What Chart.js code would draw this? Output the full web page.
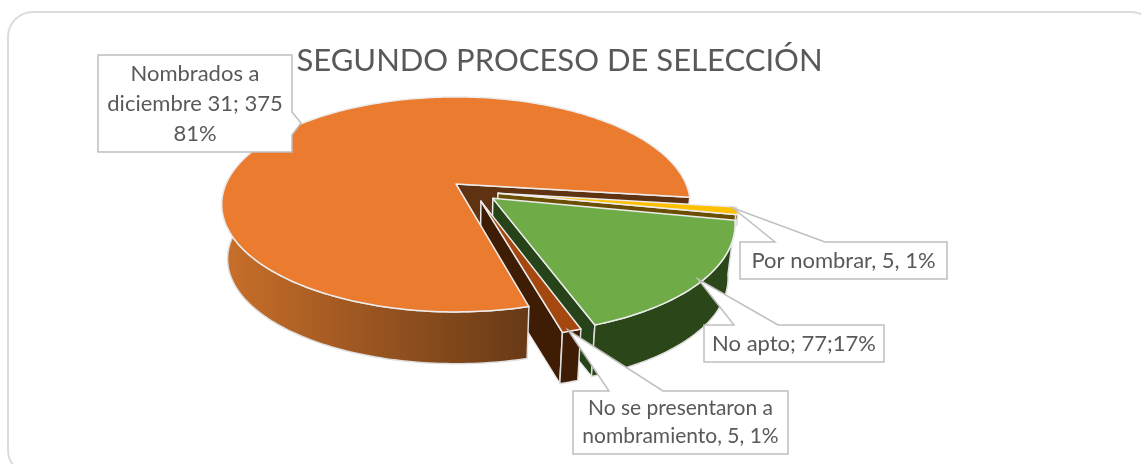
<!DOCTYPE html>
<html lang="es">
<head>
<meta charset="utf-8">
<title>Segundo proceso de selección</title>
<script src="https://cdn.jsdelivr.net/npm/chart.js@4"></script>
<style>
    html, body { margin: 0; background: #ffffff; overflow: hidden; }
    #frame {
        position: absolute; left: 7px; top: 11px; width: 1150px; height: 465px;
        border: 2px solid #dcdcdc; border-radius: 26px; box-sizing: border-box;
    }
    #chart { position: absolute; left: 0; top: 0; }
</style>
</head>
<body>
<div id="frame"></div>
<canvas id="chart" width="1119" height="464"></canvas>
<script>
const categories = ["Nombrados a diciembre 31", "Por nombrar", "No apto", "No se presentaron a nombramiento"];
const values = [375, 5, 77, 5];
const percents = ["81%", "1%", "17%", "1%"];
const titleText = "SEGUNDO PROCESO DE SELECCIÓN";

const faceColors = ["#ea7b2f", "#ffc000", "#6fab47", "#a5480f"];
const sideColors = ["#7a4317", "#6b4f00", "#2b4619", "#3f1d05"];
const wallColors = ["#5f3311", "#6b4f00", "#264319", "#3f1d05"];

// perspective of the tilted pie, in px
const VIEW = { cx: 456, cy: 184, rx: 230, ry: 103.6, tilt: 0.19, depth: 55, shrink: 0.975 };
// how far each slice is pulled out, in pie radii
const EXPLODE = [[0, 0], [0.179, 0.088], [0.156, 0.135], [0.105, 0.16]];
// the yellow slice only shows a thin strip above the green one
const DEPTH_SCALE = [1, 0.2, 1, 1];
const DRAW_ORDER = [1, 2, 3, 0];

const CALLOUTS = [
    { box: [98, 55, 194, 97], tip: [301, 123], base: [[292, 112], [292, 135]], lineHeight: 30, fontSize: 22,
      lines: ["Nombrados a", `diciembre 31; ${values[0]}`, percents[0]] },
    { box: [740, 242, 207, 37], tip: [733, 208], base: [[775, 242], [825, 242]], lineHeight: 30, fontSize: 22,
      lines: [`${categories[1]}, ${values[1]}, ${percents[1]}`] },
    { box: [704, 325, 180, 37], tip: [698, 279], base: [[734, 325], [778, 325]], lineHeight: 30, fontSize: 22,
      lines: [`${categories[2]}; ${values[2]};${percents[2]}`] },
    { box: [573, 391, 215, 63], tip: [568, 330], base: [[609, 391], [663, 391]], lineHeight: 28, fontSize: 21,
      lines: ["No se presentaron a", `nombramiento, ${values[3]}, ${percents[3]}`] },
];

function project(u, v, down) {
    const w = 1 - VIEW.tilt * v;
    const s = 1 - (1 - VIEW.shrink) * down;
    return [
        VIEW.cx + (s * VIEW.rx * u) / w,
        VIEW.cy + VIEW.depth * down + (s * VIEW.ry * v) / w,
    ];
}

function rimPoint(angle, index, bottom) {
    return project(
        Math.cos(angle) + EXPLODE[index][0],
        Math.sin(angle) + EXPLODE[index][1],
        bottom ? DEPTH_SCALE[index] : 0
    );
}

function apexPoint(index, bottom) {
    return project(EXPLODE[index][0], EXPLODE[index][1], bottom ? DEPTH_SCALE[index] : 0);
}

function tracePolygon(ctx, points) {
    ctx.beginPath();
    points.forEach((p, i) => (i ? ctx.lineTo(p[0], p[1]) : ctx.moveTo(p[0], p[1])));
    ctx.closePath();
}

function paint(ctx, points, fill, edge) {
    tracePolygon(ctx, points);
    ctx.fillStyle = fill;
    ctx.fill();
    ctx.strokeStyle = edge || "#ececec";
    ctx.lineWidth = 1.5;
    ctx.lineJoin = "round";
    ctx.stroke();
}

function rim(from, to, index, bottom) {
    const steps = Math.max(2, Math.ceil(Math.abs(to - from) / 0.02));
    const points = [];
    for (let i = 0; i <= steps; i++) {
        points.push(rimPoint(from + ((to - from) * i) / steps, index, bottom));
    }
    return points;
}

function drawWall(ctx, arc, index) {
    paint(ctx, [
        apexPoint(index, false),
        rimPoint(arc.endAngle, index, false),
        rimPoint(arc.endAngle, index, true),
        apexPoint(index, true),
    ], wallColors[index]);
}

function drawSide(ctx, arc, index) {
    // arcs past the first turn come back to 0..2PI, only the rim facing the viewer is painted
    const turn = arc.startAngle >= Math.PI * 2 ? Math.PI * 2 : 0;
    const from = arc.startAngle - turn;
    const to = Math.min(arc.endAngle - turn, (Math.PI * 185) / 180);
    if (to <= from) {
        return;
    }
    let fill = sideColors[index];
    if (index === 0) {
        fill = ctx.createLinearGradient(222, 0, 527, 0);
        fill.addColorStop(0, "#c96f2a");
        fill.addColorStop(1, "#683a16");
    }
    paint(ctx, rim(from, to, index, false).concat(rim(to, from, index, true)), fill, "#dedede");
}

function drawFace(ctx, arc, index) {
    paint(ctx, [apexPoint(index, false)].concat(rim(arc.startAngle, arc.endAngle, index, false)), faceColors[index]);
}

function drawCallout(ctx, callout) {
    const [x, y, w, h] = callout.box;
    const [a, b] = callout.base;
    // walk the box outline clockwise and break it where the pointer sits
    const points = a[1] === y
        ? [[x, y], a, callout.tip, b, [x + w, y], [x + w, y + h], [x, y + h]]
        : [[x, y], [x + w, y], a, callout.tip, b, [x + w, y + h], [x, y + h]];
    tracePolygon(ctx, points);
    ctx.fillStyle = "#ffffff";
    ctx.fill();
    ctx.strokeStyle = "#bfbfbf";
    ctx.lineWidth = 1.5;
    ctx.lineJoin = "miter";
    ctx.stroke();
    ctx.fillStyle = "#595959";
    ctx.font = `${callout.fontSize}px Lato`;
    ctx.textAlign = "center";
    ctx.textBaseline = "middle";
    const top = y + h / 2 - (callout.lineHeight * callout.lines.length) / 2;
    callout.lines.forEach((line, i) => {
        ctx.fillText(line, x + w / 2, top + callout.lineHeight * (i + 0.5));
    });
}

const tiltedPie = {
    id: "tiltedPie",
    beforeDatasetsDraw(chart) {
        const ctx = chart.ctx;
        const arcs = chart.getDatasetMeta(0).data;
        ctx.save();
        drawWall(ctx, arcs[0], 0);
        DRAW_ORDER.forEach((index) => {
            if (index !== 0) {
                drawWall(ctx, arcs[index], index);
            }
            drawSide(ctx, arcs[index], index);
            drawFace(ctx, arcs[index], index);
        });
        CALLOUTS.forEach((callout) => drawCallout(ctx, callout));
        ctx.restore();
        return false;
    },
};

new Chart(document.getElementById("chart"), {
    type: "pie",
    data: {
        labels: categories,
        datasets: [{ data: values, backgroundColor: faceColors }],
    },
    options: {
        responsive: false,
        animation: false,
        rotation: 165,
        plugins: {
            legend: { display: false },
            tooltip: { enabled: false },
            title: {
                display: true,
                text: titleText,
                color: "#595959",
                font: { family: "Lato", size: 31, weight: "normal" },
                padding: { top: 42, bottom: 10 },
            },
        },
    },
    plugins: [tiltedPie],
});
</script>
</body>
</html>
